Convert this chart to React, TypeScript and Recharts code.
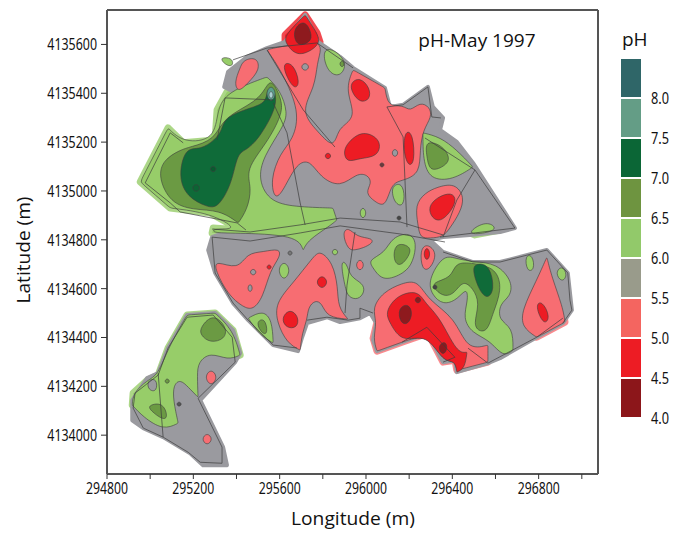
import { ScatterChart, Scatter, XAxis, YAxis, ReferenceDot, BarChart, Bar } from "recharts";

// rings are [metres east of 294000, metres north of 4134000]
// a point repeated in a ring keeps that corner sharper under the closed curve
const grayBody = [[1343,1426],[1361,1488],[1449,1549],[1541,1585],[1625,1610],[1718,1721],[1778,1610],[1880,1549],[1940,1504],[2088,1422],[2111,1344],[2172,1353],[2287,1426],[2310,1344],[2357,1299],[2343,1250],[2421,1201],[2496,1115],[2690,848],[2621,832],[2482,820],[2357,811],[2296,799],[2357,750],[2496,709],[2621,709],[2838,758],[2935,664],[2954,512],[2912,459],[2791,401],[2621,315],[2565,295],[2421,258],[2412,307],[2357,299],[2287,418],[2167,381],[2051,344],[2033,389],[2047,459],[2019,500],[1972,479],[1880,463],[1819,483],[1727,459],[1704,401],[1685,344],[1570,369],[1454,471],[1384,541],[1301,664],[1269,758],[1287,811],[1556,902],[1417,1127],[1556,1332]];
const swGray = [[917,143],[986,234],[1037,254],[1083,357],[1171,492],[1301,500],[1384,430],[1417,336],[1394,299],[1232,143],[1338,-49],[1356,-123],[1245,-123],[1185,-74],[1060,-8],[968,29],[917,61]];
const lightWest = [[954,1037],[954,1037],[1083,1258],[1083,1258],[1153,1197],[1301,1209],[1310,1332],[1356,1406],[1541,1467],[1541,1467],[1602,1414],[1639,1320],[1616,1262],[1523,1139],[1500,1045],[1556,951],[1695,934],[1847,930],[1847,930],[1865,881],[1865,881],[1833,857],[1732,799],[1709,758],[1709,758],[1680,820],[1384,828],[1287,828],[1292,848],[1417,840],[1278,910],[1093,930],[1093,930]];
const midWest = [[1037,1057],[1060,1127],[1139,1168],[1185,1180],[1301,1209],[1338,1303],[1496,1365],[1541,1434],[1565,1455],[1611,1373],[1611,1312],[1541,1197],[1440,1086],[1472,1012],[1449,922],[1408,869],[1408,869],[1324,922],[1199,922],[1093,951]];
const darkWest = [[1130,1057],[1162,1180],[1232,1168],[1301,1209],[1333,1250],[1347,1303],[1463,1340],[1541,1361],[1541,1426],[1579,1414],[1588,1344],[1509,1221],[1449,1168],[1403,1156],[1380,1033],[1315,930],[1264,934],[1171,975]];
const tealSpot = [[1560,1438],[1588,1398],[1560,1357],[1532,1398]];
const tealCore = [[1560,1414],[1574,1393],[1560,1373],[1546,1393]];
const westDotA = [[1292,1106],[1310,1090],[1292,1074],[1273,1090]];
const westDotB = [[1213,1033],[1236,1012],[1213,992],[1190,1012]];
const salmonCentral = [[1541,1578],[1541,1578],[1634,1598],[1773,1606],[1773,1606],[1796,1585],[1773,1525],[1764,1426],[1695,1324],[1778,1242],[1842,1180],[1865,1221],[1880,1262],[1958,1303],[1903,1414],[1940,1496],[1940,1496],[2088,1422],[2088,1422],[2102,1344],[2172,1353],[2204,1324],[2250,1365],[2296,1344],[2305,1303],[2264,1250],[2250,1168],[2250,1074],[2181,1045],[2134,1037],[2111,1004],[2088,934],[2042,955],[1995,992],[2028,1033],[2009,1066],[1958,1074],[1880,1012],[1787,1057],[1741,1127],[1680,1115],[1625,1016],[1579,955],[1556,1045],[1602,1156],[1662,1209],[1695,1324],[1611,1488]];
const salmonNw = [[1431,1537],[1496,1549],[1509,1496],[1454,1443],[1408,1402],[1389,1443],[1417,1504]];
const topGreenTab = [[1319,1549],[1384,1545],[1384,1508],[1347,1516]];
const peakRed = [[1625,1639],[1718,1721],[1718,1721],[1773,1647],[1787,1610],[1755,1578],[1680,1549],[1625,1606]];
const peakDark = [[1657,1659],[1718,1708],[1755,1630],[1732,1606],[1680,1590]];
const northGreen = [[1796,1578],[1847,1585],[1917,1525],[1880,1463],[1819,1488]];
const northGreenDot = [[1889,1537],[1903,1520],[1889,1504],[1875,1520]];
const grayRing = [[1718,1528],[1741,1508],[1718,1488],[1695,1508]];
const redA = [[1611,1525],[1662,1525],[1695,1443],[1671,1414],[1634,1463]];
const redB = [[1926,1443],[1972,1467],[2019,1422],[2019,1373],[1972,1361],[1935,1402]];
const redC = [[1894,1160],[1917,1201],[1986,1250],[2074,1209],[2056,1139],[1972,1135],[1912,1115]];
const redD = [[2181,1250],[2218,1238],[2227,1115],[2195,1098],[2172,1168]];
const salmonEast = [[2227,943],[2273,992],[2329,1016],[2412,1033],[2458,975],[2435,910],[2389,848],[2357,811],[2296,807],[2250,807],[2241,861]];
const redEast = [[2287,934],[2329,975],[2398,996],[2421,963],[2389,910],[2343,873],[2305,889]];
const redDot = [[1824,1160],[1842,1143],[1824,1127],[1805,1143]];
const darkDotN = [[2074,1119],[2088,1107],[2074,1094],[2060,1107]];
const grayOval = [[2134,1176],[2153,1156],[2134,1135],[2116,1156]];
const greenOval = [[2125,1024],[2167,1033],[2181,975],[2167,934],[2134,951],[2120,992]];
const greenSmall = [[1986,938],[2005,910],[1986,881],[1967,910]];
const darkDotM = [[2153,901],[2167,889],[2153,877],[2139,889]];
const lightNe = [[2264,1238],[2264,1238],[2343,1221],[2421,1168],[2496,1098],[2496,1098],[2403,1045],[2296,1045],[2264,1127]];
const midNe = [[2273,1209],[2352,1188],[2389,1139],[2375,1106],[2296,1074],[2282,1139]];
const lightBand = [[2472,832],[2560,881],[2621,840],[2505,820]];
const salmonS1 = [[1301,717],[1408,676],[1449,746],[1523,750],[1602,766],[1602,729],[1556,676],[1523,565],[1477,512],[1431,524],[1361,574],[1301,676]];
const salmonS2 = [[1579,541],[1662,623],[1755,729],[1787,758],[1847,705],[1870,606],[1870,524],[1917,475],[1917,475],[1819,483],[1796,541],[1764,553],[1732,524],[1727,471],[1704,418],[1695,348],[1695,348],[1634,377],[1588,459]];
const redS2 = [[1606,479],[1648,520],[1690,483],[1681,438],[1630,438]];
const redSmall = [[1796,659],[1828,627],[1796,594],[1764,627]];
const greenS = [[1620,717],[1653,676],[1620,627],[1588,676]];
const salmonDotA = [[1477,684],[1496,668],[1477,651],[1459,668]];
const salmonDotB = [[1463,623],[1477,602],[1463,582],[1449,602]];
const redDotS = [[1551,701],[1565,688],[1551,676],[1537,688]];
const darkDotS = [[1648,758],[1662,746],[1648,733],[1634,746]];
const greenDotS = [[1856,766],[1875,750],[1856,733],[1838,750]];
const lightEdge = [[1454,479],[1454,479],[1523,512],[1565,471],[1570,377],[1570,377],[1509,410]];
const midEdge = [[1486,463],[1532,483],[1546,418],[1523,410]];
const salmonTop = [[1889,828],[1917,853],[1958,811],[2028,807],[2033,787],[1986,766],[1949,758],[1917,758]];
const lightMid = [[1880,717],[1912,705],[1926,647],[1986,623],[1995,586],[1963,553],[1917,565],[1903,606]];
const salmonSmall = [[1972,725],[1995,697],[1972,668],[1949,697]];
const lightCentre = [[2009,717],[2088,746],[2120,811],[2204,832],[2236,787],[2218,709],[2181,664],[2079,627],[2033,684]];
const midCentre = [[2134,787],[2195,779],[2213,750],[2158,684],[2125,717]];
const salmonNotch = [[2250,758],[2282,787],[2333,746],[2296,676],[2259,676]];
const redNotch = [[2282,775],[2301,742],[2282,709],[2264,742]];
const salmonSe = [[2028,520],[2079,586],[2167,623],[2241,635],[2287,553],[2412,483],[2468,348],[2565,369],[2565,369],[2565,299],[2565,299],[2421,266],[2421,266],[2412,307],[2357,299],[2287,418],[2167,381],[2051,344],[2051,344],[2033,397],[2051,463]];
const redSe = [[2088,504],[2143,574],[2241,594],[2273,541],[2343,483],[2421,336],[2468,340],[2468,340],[2458,274],[2421,258],[2421,258],[2412,307],[2357,299],[2282,418],[2167,377],[2111,459]];
const darkSeA = [[2148,520],[2195,541],[2218,500],[2195,451],[2158,459]];
const darkSeB = [[2329,361],[2366,389],[2380,356],[2357,323]];
const darkSeC = [[2241,570],[2259,553],[2241,537],[2222,553]];
const lightEast = [[2287,635],[2357,738],[2412,725],[2496,709],[2607,705],[2681,627],[2667,565],[2621,541],[2612,471],[2681,442],[2681,348],[2681,348],[2635,319],[2574,389],[2491,418],[2449,479],[2473,553],[2468,606],[2421,553],[2357,533],[2305,574]];
const midEast = [[2305,627],[2398,643],[2412,709],[2496,705],[2607,684],[2630,594],[2588,500],[2565,430],[2528,422],[2496,451],[2528,541],[2496,602],[2449,635],[2412,582],[2366,565],[2320,594]];
const darkEast = [[2491,684],[2514,705],[2574,697],[2597,594],[2560,553],[2519,602]];
const midEastDot = [[2320,619],[2333,606],[2320,594],[2305,606]];
const salmonFarE = [[2722,512],[2791,635],[2838,729],[2838,729],[2861,647],[2912,524],[2922,463],[2922,463],[2791,401],[2791,401],[2722,442]];
const redFarE = [[2782,533],[2815,553],[2856,483],[2824,446]];
const greenFarA = [[2736,738],[2773,738],[2782,676],[2745,668]];
const greenFarB = [[2875,664],[2908,697],[2935,656],[2908,623]];
const swLight = [[921,172],[986,225],[1037,246],[1083,357],[1171,492],[1171,492],[1301,500],[1301,500],[1384,430],[1417,328],[1417,328],[1361,307],[1278,340],[1222,299],[1218,246],[1222,155],[1222,155],[1176,197],[1139,229],[1107,205],[1107,143],[1130,49],[1130,49],[1060,20],[968,74],[917,123],[917,123]];
const swGrayPatch = [[986,225],[1032,234],[1032,176],[990,184]];
const swMidA = [[1232,442],[1292,500],[1356,442],[1347,393],[1278,377],[1232,410]];
const swMidB = [[990,123],[1060,135],[1083,74],[1060,61],[1000,102]];
const swSalmonA = [[1282,274],[1315,238],[1282,197],[1250,238]];
const swSalmonB = [[1264,12],[1292,-16],[1264,-45],[1236,-16]];
const swDotA = [[1079,234],[1093,221],[1079,209],[1065,221]];
const swDotB = [[1134,139],[1148,127],[1134,115],[1120,127]];

// field boundaries
const fieldLines = [
  [[1153,1197],[1093,1238],[977,1033],[1093,951],[1139,914],[1403,869],[1444,840]],
  [[1570,1373],[1347,1381],[1310,1209]],
  [[1570,1361],[1634,1238],[1695,951],[1718,861]],
  [[1541,1578],[1709,1332],[1856,1180]],
  [[1384,1537],[1541,1585],[1773,1606],[1940,1504]],
  [[2097,1344],[2172,1221],[2190,852]],
  [[2097,1344],[2172,1353],[2287,1426],[2305,1303],[2347,1299]],
  [[2505,1086],[2421,963],[2357,811]],
  [[2273,1217],[2505,1086],[2690,848],[2343,811]],
  [[1287,844],[1463,832],[1695,861],[1880,889],[2158,873],[2357,820]],
  [[1287,811],[1463,795],[1695,828],[1880,857],[2158,824],[2366,791]],
  [[1949,832],[1912,614],[1903,500]],
  [[1287,811],[1301,664],[1384,541],[1454,471],[1570,369],[1680,357]],
  [[1727,471],[1819,483],[1917,471],[1972,479],[1972,520],[2033,500]],
  [[2167,381],[2282,442],[2412,319],[2357,299]],
  [[2473,356],[2565,295],[2791,401],[2912,479]],
  [[2357,750],[2496,709],[2621,709],[2838,758],[2935,664],[2945,553],[2954,512],[2912,459]],
  [[930,172],[1037,246],[1083,357],[1171,483],[1292,492],[1380,401],[1394,299],[1222,151],[1333,-49],[1333,-115],[1232,-111],[1176,-70],[1060,-8],[968,29],[921,111],[930,172]],
  [[1037,254],[1060,-8]],
];

const DARK_RED = "#8e1a1e";
const RED = "#ed1c24";
const SALMON = "#f76d72";
const GRAY = "#9a9a9f";
const LIGHT = "#97cd69";
const MID = "#6b9a43";
const DARK = "#0f6b39";
const TEAL = "#5a9e8c";
const PALE = "#a9d0d2";
const INK = "#3d3d3d";

// soft fringe of colour just outside the field edge
const halos: [number[][], string][] = [
  [lightWest, LIGHT], [swLight, LIGHT], [lightNe, LIGHT], [lightBand, LIGHT], [salmonSe, SALMON], [salmonFarE, SALMON], [peakRed, RED],
];
const baseRings = [grayBody, swGray];
const contours: [number[][], string][] = [
  [lightWest, LIGHT], [midWest, MID], [darkWest, DARK], [tealSpot, TEAL], [tealCore, PALE], [westDotA, "#0a5a2f"], [westDotB, "#0c6434"],
  [salmonCentral, SALMON], [salmonNw, SALMON], [topGreenTab, LIGHT], [peakRed, RED], [peakDark, DARK_RED],
  [northGreen, LIGHT], [northGreenDot, MID], [grayRing, GRAY], [redA, RED], [redB, RED], [redC, RED], [redD, RED],
  [lightNe, LIGHT], [midNe, MID], [lightBand, LIGHT], [salmonEast, SALMON], [redEast, RED], [redDot, RED], [darkDotN, "#6a3a3c"], [grayOval, GRAY],
  [greenOval, LIGHT], [greenSmall, LIGHT], [darkDotM, "#444"],
  [salmonS1, SALMON], [salmonS2, SALMON], [redS2, RED], [redSmall, RED], [greenS, LIGHT], [salmonDotA, GRAY], [salmonDotB, GRAY], [redDotS, RED], [darkDotS, "#777"], [greenDotS, LIGHT],
  [lightEdge, LIGHT], [midEdge, MID], [salmonTop, SALMON], [lightMid, LIGHT], [salmonSmall, SALMON], [lightCentre, LIGHT], [midCentre, MID],
  [salmonNotch, SALMON], [redNotch, RED], [salmonSe, SALMON], [redSe, RED], [darkSeA, DARK_RED], [darkSeB, DARK_RED], [darkSeC, DARK_RED],
  [lightEast, LIGHT], [midEast, MID], [darkEast, DARK], [midEastDot, "#444"], [salmonFarE, SALMON], [redFarE, RED], [greenFarA, LIGHT], [greenFarB, LIGHT],
  [swLight, LIGHT], [swGrayPatch, GRAY], [swMidA, MID], [swMidB, MID], [swSalmonA, SALMON], [swSalmonB, SALMON], [swDotA, MID], [swDotB, "#555"],
];

const lonTicks = [294800, 295000, 295200, 295400, 295600, 295800, 296000, 296200, 296400, 296600, 296800, 297000];
const latTicks = [4134000, 4134200, 4134400, 4134600, 4134800, 4135000, 4135200, 4135400, 4135600];
const legendColors = ["#8c161a", "#ed1c24", "#f46560", "#999b8b", "#92c96a", "#6e9440", "#0b6636", "#649d86", "#2f6668"];
const legendTicks = [4, 4.5, 5, 5.5, 6, 6.5, 7, 7.5, 8];

const toPoints = (ring: number[][]) => ring.map(([e, n]) => ({ lon: 294000 + e, lat: 4134000 + n }));
const legendRow = { base: 4, ...Object.fromEntries(legendColors.map((_, i) => [`s${i}`, 0.5])) };

const NoDot = () => null;
const titleFont = { fontFamily: "'Open Sans'", fontSize: 19, fill: "#111" };
const frame = { stroke: "#555", strokeWidth: 2 };
const tick = { stroke: "#333" };

// the reference tick font is condensed, so squeeze the glyphs to the measured width
const NarrowText = ({ x, y, text, anchor, dy, glyph }: any) =>
  text ? (
    <text x={x} y={y} dy={dy} textAnchor={anchor} fontFamily="'Noto Sans'" fontSize={16} fill="#111" textLength={text.length * glyph} lengthAdjust="spacingAndGlyphs">
      {text}
    </text>
  ) : null;

const LonTick = ({ x, y, payload }: any) => {
  const v = payload.value;
  return <NarrowText x={x} y={y} dy={13} anchor="middle" glyph={7} text={(v - 294800) % 400 === 0 && v < 297000 ? String(v) : ""} />;
};
const LatTick = ({ x, y, payload }: any) => <NarrowText x={x - 2} y={y} dy={6} anchor="end" glyph={7.1} text={String(payload.value)} />;
const PhTick = ({ x, y, payload }: any) => <NarrowText x={x} y={y} dy={6} anchor="start" glyph={6} text={payload.value.toFixed(1)} />;

const LonTitle = () => (
  <text x={353} y={525} textAnchor="middle" {...titleFont} textLength={124} lengthAdjust="spacingAndGlyphs">Longitude (m)</text>
);
const LatTitle = () => (
  <text x={30} y={250} transform="rotate(-90 30 250)" textAnchor="middle" {...titleFont} textLength={107} lengthAdjust="spacingAndGlyphs">Latitude (m)</text>
);

export default function App() {
  return (
    <div style={{ position: "absolute", left: 0, top: 0, width: 677, height: 533, background: "#fff" }}>
      <style>{`.recharts-scatter { filter: blur(0.6px); }`}</style>
      <ScatterChart width={677} height={533} margin={{ top: 0, right: 0, bottom: 0, left: 0 }}>
        <XAxis type="number" dataKey="lon" domain={[294800, 297075]} ticks={lonTicks} interval={0} height={59} tickSize={5} tick={<LonTick />} axisLine={frame} tickLine={tick} label={LonTitle} />
        <XAxis xAxisId="top" orientation="top" type="number" domain={[294800, 297075]} ticks={lonTicks} interval={0} height={10} tickSize={6} tickFormatter={() => ""} axisLine={frame} tickLine={tick} />
        <YAxis type="number" dataKey="lat" domain={[4133841, 4135741]} ticks={latTicks} interval={0} width={107} tickSize={6} tick={<LatTick />} axisLine={frame} tickLine={tick} label={LatTitle} />
        <YAxis yAxisId="right" orientation="right" type="number" domain={[4133841, 4135741]} ticks={latTicks} interval={0} width={79} tickSize={6} tickFormatter={() => ""} axisLine={frame} tickLine={tick} />
        {halos.map(([ring, fill], i) => (
          <Scatter key={`h${i}`} data={toPoints(ring)} shape={NoDot} isAnimationActive={false} lineJointType="linearClosed" line={{ fill, stroke: fill, strokeOpacity: 0.8, strokeWidth: 7, strokeLinejoin: "round" }} />
        ))}
        {baseRings.map((ring, i) => (
          <Scatter key={`b${i}`} data={toPoints(ring)} shape={NoDot} isAnimationActive={false} lineJointType="linearClosed" line={{ fill: GRAY, stroke: GRAY, strokeWidth: 4, strokeLinejoin: "round" }} />
        ))}
        {contours.map(([ring, fill], i) => (
          <Scatter key={`c${i}`} data={toPoints(ring)} shape={NoDot} isAnimationActive={false} lineJointType="basisClosed" line={{ fill, stroke: INK, strokeOpacity: 0.6, strokeWidth: 1 }} />
        ))}
        {fieldLines.map((ring, i) => (
          <Scatter key={`f${i}`} data={toPoints(ring)} shape={NoDot} isAnimationActive={false} lineJointType="linear" line={{ fill: "none", stroke: INK, strokeOpacity: 0.7, strokeWidth: 1 }} />
        ))}
        <ReferenceDot x={296514} y={4135618} r={0} stroke="none" fill="none" label={{ value: "pH-May 1997", position: "center", style: titleFont }} />
      </ScatterChart>
      <div style={{ position: "absolute", left: 622, top: 27, fontFamily: "'Open Sans'", fontSize: 19, lineHeight: "24px", color: "#111" }}>pH</div>
      <div style={{ position: "absolute", left: 620, top: 48 }}>
        <BarChart width={57} height={385} data={[legendRow]} barCategoryGap={0} margin={{ top: 10, right: 0, bottom: 15, left: 0 }}>
          <XAxis hide dataKey={() => "pH"} />
          <YAxis orientation="right" type="number" domain={[4, 8.5]} allowDataOverflow ticks={legendTicks} interval={0} width={35} axisLine={false} tickLine={false} tickMargin={3} tick={<PhTick />} />
          <Bar dataKey="base" stackId="a" fill="none" isAnimationActive={false} />
          {legendColors.map((c, i) => (
            <Bar key={c} dataKey={`s${i}`} stackId="a" fill={c} stroke="#fff" strokeWidth={2} isAnimationActive={false} />
          ))}
        </BarChart>
      </div>
    </div>
  );
}
